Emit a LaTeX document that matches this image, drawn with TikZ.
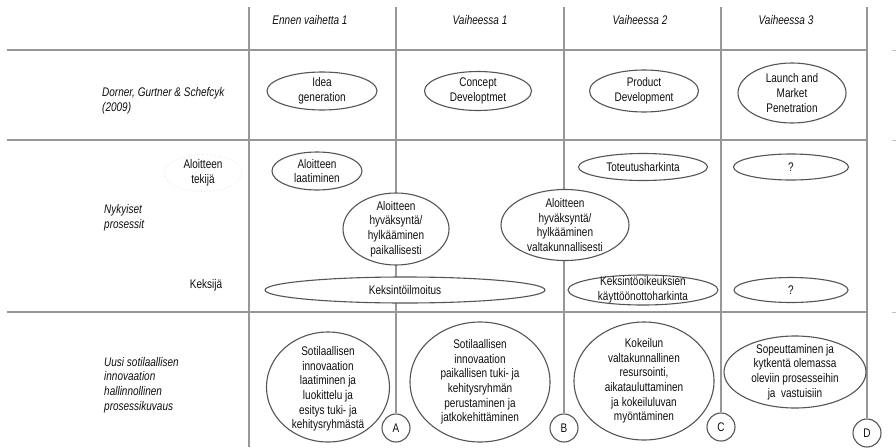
\documentclass[tikz,border=0pt]{standalone}
\usepackage{fontspec}
\setmainfont{Liberation Sans}[FakeStretch=0.8]
\usetikzlibrary{shapes.geometric}
\definecolor{gridc}{HTML}{979797}
\definecolor{ovc}{HTML}{555555}
\definecolor{txc}{HTML}{101010}
\tikzset{
 grid/.style={draw=gridc, line width=1.8pt},
 ov/.style={ellipse, draw=ovc, line width=1.1pt, fill=white, inner sep=0pt},
 tx/.style={font=\fontsize{12.5}{14.6}\selectfont, align=center, text=txc, inner sep=0pt},
 hd/.style={font=\fontsize{12.5}{14.6}\selectfont\itshape, text=txc, inner sep=0pt},
 rl/.style={font=\fontsize{12.5}{14.6}\selectfont\itshape, align=left, text=txc, anchor=west, inner sep=0pt},
 circ/.style={circle, draw=ovc, line width=1.1pt, fill=white, minimum size=28pt, inner sep=0pt, text=txc, font=\fontsize{12.5}{14}\selectfont},
}
\begin{document}
\begin{tikzpicture}[x=1pt,y=-1pt]
\useasboundingbox[fill=white] (0,0) rectangle (896,447);
% grid coordinates
\coordinate (h1l) at (7,50);  \coordinate (h1r) at (867,50);
\coordinate (h2l) at (7,140); \coordinate (h2r) at (867,140);
\coordinate (h3l) at (7,312); \coordinate (h3r) at (867,312);
\coordinate (v0t) at (249,7); \coordinate (v0b) at (249,447);
\coordinate (v1t) at (396,7);
\coordinate (v2t) at (564,7);
\coordinate (v3t) at (721,7);
\coordinate (v4t) at (867,7);
% circles
\node[circ] (A) at (396,428) {A};
\node[circ] (B) at (564,428) {B};
\node[circ] (C) at (721,427) {C};
\node[circ] (D) at (867,433) {D};
% grid lines
\draw[grid] (h1l) -- (h1r);
\draw[grid] (h2l) -- (h2r);
\draw[grid] (h3l) -- (h3r);
\draw[grid] (v0t) -- (v0b);
\draw[grid] (v1t) -- (A);
\draw[grid] (v2t) -- (B);
\draw[grid] (v3t) -- (C);
\draw[grid] (v4t) -- (D);
\coordinate (m1a) at (892,50);  \coordinate (m1b) at (896,50);
\coordinate (m2a) at (892,140); \coordinate (m2b) at (896,140);
\coordinate (m3a) at (892,312); \coordinate (m3b) at (896,312);
\draw[draw=gridc!60, line width=1pt] (m1a) -- (m1b);
\draw[draw=gridc!60, line width=1pt] (m2a) -- (m2b);
\draw[draw=gridc!60, line width=1pt] (m3a) -- (m3b);
% headers
\node[hd] (hd1) at (310,20) {Ennen vaihetta 1};
\node[hd] (hd2) at (480,20) {Vaiheessa 1};
\node[hd] (hd3) at (640,20) {Vaiheessa 2};
\node[hd] (hd4) at (786,20) {Vaiheessa 3};
% row labels
\node[rl] (r1) at (102,100.5) {Dorner, Gurtner \& Schefcyk\\(2009)};
\node[rl] (r2) at (104,218) {Nykyiset\\prosessit};
\node[rl] (r3) at (104,385) {Uusi sotilaallisen\\innovaation\\hallinnollinen\\prosessikuvaus};
% row 1
\node[ov, minimum width=110pt, minimum height=38pt, label={[tx]center:Idea\\generation}] (idea) at (322,91) {};
\node[ov, minimum width=107pt, minimum height=39pt, label={[tx]center:Concept\\Developtmet}] (conc) at (478,91) {};
\node[ov, minimum width=109pt, minimum height=42pt, label={[tx]center:Product\\Development}] (prod) at (644,91) {};
\node[ov, minimum width=108pt, minimum height=60pt, label={[tx]center:Launch and\\Market\\Penetration}] (laun) at (792,93) {};
% row 2
\node[ellipse, draw=gridc!35, dotted, line width=0.6pt, inner sep=0pt, minimum width=78pt, minimum height=37pt, label={[tx]center:Aloitteen\\tekijä}] (tek) at (203,173) {};
\node[tx] (keks) at (206,285) {Keksijä};
\node[ov, minimum width=90pt, minimum height=38pt, label={[tx]center:Aloitteen\\laatiminen}] (laat) at (317,171) {};
\node[ov, minimum width=106pt, minimum height=72pt, label={[tx]center:Aloitteen\\hyväksyntä/\\hylkääminen\\paikallisesti}] (paik) at (396,229) {};
\node[ov, minimum width=128pt, minimum height=71pt, label={[tx]center:Aloitteen\\hyväksyntä/\\hylkääminen\\valtakunnallisesti}] (valt) at (565,225) {};
\node[ov, minimum width=129pt, minimum height=27pt, label={[tx]center:Toteutusharkinta}] (tot) at (643,167) {};
\node[ov, minimum width=115pt, minimum height=26pt, label={[tx]center:?}] (q1) at (791,167) {};
\node[ov, minimum width=280pt, minimum height=26pt, label={[tx]center:Keksintöilmoitus}] (kil) at (405,290) {};
\node[ov, minimum width=150pt, minimum height=30pt, label={[tx]center:Keksintöoikeuksien\\käyttöönottoharkinta}] (koik) at (643,290) {};
\node[ov, minimum width=114pt, minimum height=25pt, label={[tx]center:?}] (q2) at (791,290) {};
% row 3
\node[ov, minimum width=123pt, minimum height=110pt, label={[tx, yshift=-2pt]center:Sotilaallisen\\innovaation\\laatiminen ja\\luokittelu ja\\esitys tuki- ja\\kehitysryhmästä}] (n1) at (328,387) {};
\node[ov, minimum width=140pt, minimum height=120pt, label={[tx]center:Sotilaallisen\\innovaation\\paikallisen tuki- ja\\kehitysryhmän\\perustaminen ja\\jatkokehittäminen}] (n2) at (480,382) {};
\node[ov, minimum width=140pt, minimum height=118pt, label={[tx]center:Kokeilun\\valtakunnallinen\\resursointi,\\aikatauluttaminen\\ja kokeiluluvan\\myöntäminen}] (n3) at (644,381) {};
\node[ov, minimum width=142pt, minimum height=72pt, label={[tx]center:Sopeuttaminen ja\\kytkentä olemassa\\oleviin prosesseihin\\ja\ \ vastuisiin}] (n4) at (795,372) {};
\end{tikzpicture}
\end{document}
